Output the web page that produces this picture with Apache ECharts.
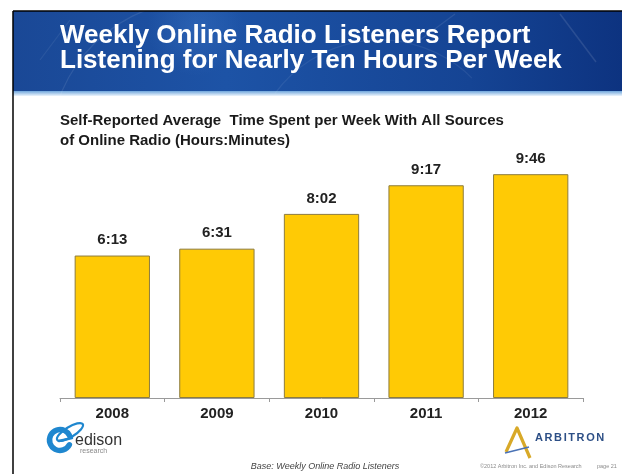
<!DOCTYPE html>
<html>
<head>
<meta charset="utf-8">
<script src="https://cdn.jsdelivr.net/npm/echarts@6/dist/echarts.min.js"></script>
<style>
  html, body { margin: 0; padding: 0; background: #fff; }
  #chart { width: 622px; height: 474px; }
</style>
</head>
<body>
<div id="chart"></div>
<script>
// Weekly time spent with online radio, in minutes
const years = ['2008', '2009', '2010', '2011', '2012'];
const minutesPerWeek = [373, 391, 482, 557, 586]; // 6:13, 6:31, 8:02, 9:17, 9:46

const titleLines = [
  'Weekly Online Radio Listeners Report',
  'Listening for Nearly Ten Hours Per Week'
];
const subtitleLines = [
  'Self-Reported Average  Time Spent per Week With All Sources',
  'of Online Radio (Hours:Minutes)'
];
const baseNote = 'Base: Weekly Online Radio Listeners';
const copyrightNote = '\u00a92012 Arbitron Inc. and Edison Research';
const pageNote = 'page 21';

const FONT = '"Liberation Sans", Arial, sans-serif';

function toHoursMinutes(m) {
  const h = Math.floor(m / 60);
  const mm = m % 60;
  return h + ':' + String(mm).padStart(2, '0');
}

// Letter-spaced word built from individual glyphs
function spacedText(word, x0, y, font, color, spacing) {
  const ctx = document.createElement('canvas').getContext('2d');
  ctx.font = font;
  const out = [];
  let x = x0;
  for (const ch of word) {
    out.push({ type: 'text', x: x, y: y, z: 10,
      style: { text: ch, font: font, fill: color, textVerticalAlign: 'middle', verticalAlign: 'middle' } });
    x += ctx.measureText(ch).width + spacing;
  }
  return out;
}

const chart = echarts.init(document.getElementById('chart'), null, { renderer: 'canvas' });

const headerFill = new echarts.graphic.LinearGradient(0, 0, 1, 0, [
  { offset: 0, color: '#1a4896' },
  { offset: 0.35, color: '#1d53a6' },
  { offset: 0.75, color: '#154494' },
  { offset: 1, color: '#0d3380' }
]);

const graphics = [
  // header band
  { type: 'rect', z: 0, shape: { x: 13, y: 11, width: 609, height: 81 }, style: { fill: headerFill } },
  { type: 'rect', z: 1, shape: { x: 13, y: 11, width: 609, height: 81 },
    style: { fill: new echarts.graphic.RadialGradient(0.3, 0.2, 0.6, [
      { offset: 0, color: 'rgba(90,150,230,0.22)' },
      { offset: 1, color: 'rgba(90,150,230,0)' }
    ]) } },
  // faint dial strokes in the header
  { type: 'arc', z: 2, shape: { cx: 200, cy: 150, r: 150, startAngle: Math.PI * 1.1, endAngle: Math.PI * 1.6 },
    style: { stroke: 'rgba(255,255,255,0.09)', lineWidth: 1.2, fill: null } },
  { type: 'arc', z: 2, shape: { cx: 380, cy: 170, r: 130, startAngle: Math.PI * 1.2, endAngle: Math.PI * 1.75 },
    style: { stroke: 'rgba(255,255,255,0.07)', lineWidth: 1.2, fill: null } },
  { type: 'line', z: 2, shape: { x1: 560, y1: 14, x2: 596, y2: 62 }, style: { stroke: 'rgba(255,255,255,0.11)', lineWidth: 1.5 } },
  { type: 'line', z: 2, shape: { x1: 455, y1: 14, x2: 420, y2: 40 }, style: { stroke: 'rgba(255,255,255,0.09)', lineWidth: 1.2 } },
  { type: 'line', z: 2, shape: { x1: 40, y1: 60, x2: 70, y2: 20 }, style: { stroke: 'rgba(255,255,255,0.07)', lineWidth: 1.2 } },
  // light strip under the header
  { type: 'rect', z: 1, shape: { x: 13, y: 91, width: 609, height: 5 },
    style: { fill: new echarts.graphic.LinearGradient(0, 0, 0, 1, [
      { offset: 0, color: '#6fa6dc' },
      { offset: 1, color: '#eef5fc' }
    ]) } },
  // slide frame
  { type: 'line', z: 5, shape: { x1: 13, y1: 11, x2: 13, y2: 474 }, style: { stroke: '#000', lineWidth: 1.5 } },
  { type: 'line', z: 5, shape: { x1: 13, y1: 11, x2: 622, y2: 11 }, style: { stroke: '#000', lineWidth: 1.5 } }
];

// title
titleLines.forEach((t, i) => {
  graphics.push({ type: 'text', z: 10, x: 60, y: 36 + i * 25,
    style: { text: t, font: 'bold 26px ' + FONT, fill: '#ffffff',
      textVerticalAlign: 'middle', verticalAlign: 'middle' } });
});

// chart subtitle
subtitleLines.forEach((t, i) => {
  graphics.push({ type: 'text', z: 10, x: 60, y: 121 + i * 19.5,
    style: { text: t, font: 'bold 15px ' + FONT, fill: '#1a1a1a',
      textVerticalAlign: 'middle', verticalAlign: 'middle' } });
});

// edison research mark
graphics.push(
  { type: 'arc', z: 10, shape: { cx: 60, cy: 440, r: 10.5, startAngle: Math.PI * 0.15, endAngle: Math.PI * 1.85, clockwise: true },
    style: { stroke: '#1f87cf', lineWidth: 5.5, fill: null, lineCap: 'round' } },
  { type: 'ellipse', z: 10, x: 70, y: 432, rotation: 0.55, shape: { cx: 0, cy: 0, rx: 15, ry: 5 },
    style: { stroke: '#1f87cf', lineWidth: 2.2, fill: null } },
  { type: 'line', z: 10, shape: { x1: 59, y1: 441, x2: 72, y2: 438 }, style: { stroke: '#1f87cf', lineWidth: 2.5, lineCap: 'round' } },
  { type: 'text', z: 10, x: 75, y: 441,
    style: { text: 'edison', font: '16px ' + FONT, fill: '#333333', textVerticalAlign: 'middle', verticalAlign: 'middle' } },
  { type: 'text', z: 10, x: 80, y: 451,
    style: { text: 'research', font: '7px ' + FONT, fill: '#8a8a8a', textVerticalAlign: 'middle', verticalAlign: 'middle' } }
);

// Arbitron mark
graphics.push(
  { type: 'polyline', z: 10, shape: { points: [[506, 452], [517, 428], [530, 458]] },
    style: { stroke: '#d8a928', lineWidth: 3.2, fill: null, lineJoin: 'round' } },
  { type: 'line', z: 11, shape: { x1: 505, y1: 453, x2: 529, y2: 447 }, style: { stroke: '#4a72b5', lineWidth: 1.6 } }
);
graphics.push(...spacedText('ARBITRON', 535, 438, 'bold 11px ' + FONT, '#2d4f86', 1.6));

// footer notes
graphics.push(
  { type: 'text', z: 10, x: 325, y: 466,
    style: { text: baseNote, font: 'italic 9px ' + FONT, fill: '#444444',
      textAlign: 'center', align: 'center', textVerticalAlign: 'middle', verticalAlign: 'middle' } },
  { type: 'text', z: 10, x: 480, y: 466,
    style: { text: copyrightNote, font: '5.5px ' + FONT, fill: '#8a8a8a', textVerticalAlign: 'middle', verticalAlign: 'middle' } },
  { type: 'text', z: 10, x: 597, y: 466,
    style: { text: pageNote, font: '5.5px ' + FONT, fill: '#8a8a8a', textVerticalAlign: 'middle', verticalAlign: 'middle' } }
);

chart.setOption({
  animation: false,
  backgroundColor: '#ffffff',
  grid: { left: 60, right: 39, top: 123, bottom: 76 },
  xAxis: {
    type: 'category',
    data: years,
    axisLine: { lineStyle: { color: '#9a9a9a', width: 1 } },
    axisTick: { show: true, length: 4, lineStyle: { color: '#9a9a9a' } },
    axisLabel: { margin: 8, fontSize: 15, fontWeight: 'bold', color: '#222222', fontFamily: FONT }
  },
  yAxis: { type: 'value', min: 0, max: 720, show: false },
  series: [{
    type: 'bar',
    data: minutesPerWeek,
    barCategoryGap: '28%',
    itemStyle: { color: '#ffca05', borderColor: '#8d7c3e', borderWidth: 1 },
    label: {
      show: true,
      position: 'top',
      distance: 8,
      formatter: p => toHoursMinutes(p.value),
      fontSize: 15,
      fontWeight: 'bold',
      color: '#222222',
      fontFamily: FONT
    }
  }],
  graphic: graphics
});
</script>
</body>
</html>
